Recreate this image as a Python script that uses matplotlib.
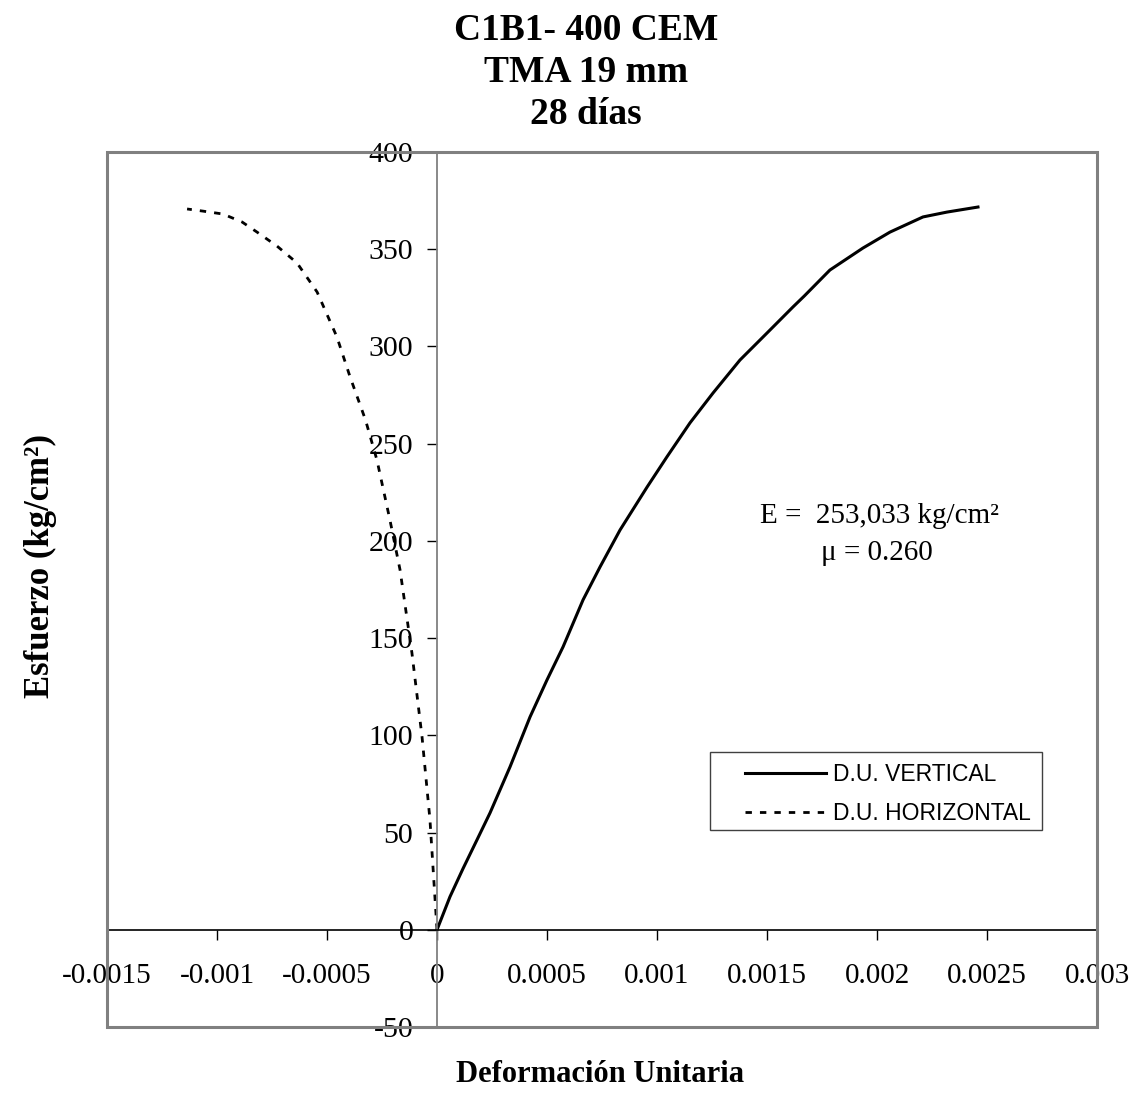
import numpy as np
import matplotlib
matplotlib.use('Agg')
from matplotlib import pyplot as plt
from matplotlib.ticker import MultipleLocator, FuncFormatter
from matplotlib.patches import Rectangle

# Curve readings (strain, stress in kg/cm2)
vert_strain = [0, 5.9e-5, 1.18e-4, 1.82e-4, 2.41e-4, 3.32e-4, 4.23e-4, 5.0e-4,
               5.73e-4, 6.64e-4, 7.41e-4, 8.32e-4, 9.55e-4, 1.045e-3, 1.15e-3,
               1.255e-3, 1.377e-3, 1.5e-3, 1.618e-3, 1.67e-3, 1.786e-3,
               1.936e-3, 2.059e-3, 2.209e-3, 2.318e-3, 2.459e-3]
vert_stress = [0, 17, 31.4, 46.3, 60.1, 83.8, 109.5, 128.5, 145.5, 169.7,
               186.6, 205.6, 227.7, 243.2, 260.7, 276.1, 293, 306.9, 320.3,
               326.0, 339.3, 350.6, 358.8, 366.6, 369.1, 371.7]

horiz_strain = [0, -3.2e-5, -6.8e-5, -1.14e-4, -1.68e-4, -2.14e-4, -2.73e-4,
                -3.25e-4, -3.95e-4, -4.55e-4, -5.45e-4, -6.36e-4, -7.27e-4,
                -8.18e-4, -8.86e-4, -9.73e-4, -1.064e-3, -1.136e-3]
horiz_stress = [0, 56.6, 99.2, 142.4, 185.1, 210.8, 241.6, 262.2, 284.3,
                304.9, 328, 342.9, 351.6, 358.8, 364, 368.1, 369.6, 370.7]

title_lines = ['C1B1- 400 CEM', 'TMA 19 mm', '28 días']
labels = ['D.U. VERTICAL', 'D.U. HORIZONTAL']

serif = 'Liberation Serif'
sans = 'Liberation Sans'

fig = plt.figure(figsize=(11.37, 10.95), dpi=100)
ax = fig.add_axes([107/1137, 1-1027/1095, 990/1137, 875/1095])

ax.plot(vert_strain, vert_stress, color='black', lw=2.2, label=labels[0])
ax.plot(horiz_strain, horiz_stress, color='black', lw=2.0,
        linestyle=(0, (2.3, 2.9)), label=labels[1])

ax.set_xlim(-0.0015, 0.003)
ax.set_ylim(-50, 400)
ax.xaxis.set_major_locator(MultipleLocator(0.0005))
ax.yaxis.set_major_locator(MultipleLocator(50))
ax.xaxis.set_major_formatter(FuncFormatter(lambda v, p: '%g' % round(v, 6)))
ax.yaxis.set_major_formatter(FuncFormatter(lambda v, p: '%g' % v))

for s in ['top', 'right']:
    ax.spines[s].set_visible(False)
ax.spines['left'].set_position(('data', 0))
ax.spines['bottom'].set_position(('data', 0))
ax.spines['left'].set_color('#808080')
ax.spines['left'].set_linewidth(1.3)
ax.spines['bottom'].set_color('black')
ax.spines['bottom'].set_linewidth(1.2)

ax.tick_params(axis='x', direction='out', length=7, width=1, pad=17,
               labelsize=21, color='black')
ax.tick_params(axis='y', direction='out', length=7, width=1, pad=10,
               labelsize=21.5, color='black')
for lab in ax.get_xticklabels() + ax.get_yticklabels():
    lab.set_fontfamily(serif)

# gray plot-area border
ax.add_patch(Rectangle((0, 0), 1, 1, transform=ax.transAxes, fill=False,
                       edgecolor='#808080', lw=2.2, clip_on=False, zorder=5))

# legend with its own box
ax.add_patch(Rectangle((0.609, 0.225), 0.335, 0.089, transform=ax.transAxes,
                       fill=True, facecolor='white', edgecolor='#404040',
                       lw=1.0, zorder=6))
leg = ax.legend(loc='upper left', bbox_to_anchor=(0.644, 0.302),
                frameon=False, borderpad=0, borderaxespad=0,
                handlelength=3.55, handletextpad=0.3, labelspacing=0.72,
                prop={'family': sans, 'size': 16.5})
leg.set_zorder(7)

ax.text(1.468e-3, 209, 'E =  253,033 kg/cm²', fontsize=21, family=serif,
        ha='left', va='baseline')
ax.text(2.0e-3, 190, 'μ = 0.260', fontsize=21, family=serif,
        ha='center', va='baseline')

for i, t in enumerate(title_lines):
    fig.text(586/1137, 1-(30 + 42*i)/1095, t, ha='center', va='center',
             fontsize=27, fontweight='bold', family=serif)

fig.text(600/1137, 1-1075/1095, 'Deformación Unitaria', ha='center',
         va='center', fontsize=22, fontweight='bold', family=serif)
fig.text(40/1137, 1-566/1095, 'Esfuerzo (kg/cm²)', ha='center', va='center',
         rotation=90, fontsize=25, fontweight='bold', family=serif)

plt.savefig('out.png', dpi=100)
